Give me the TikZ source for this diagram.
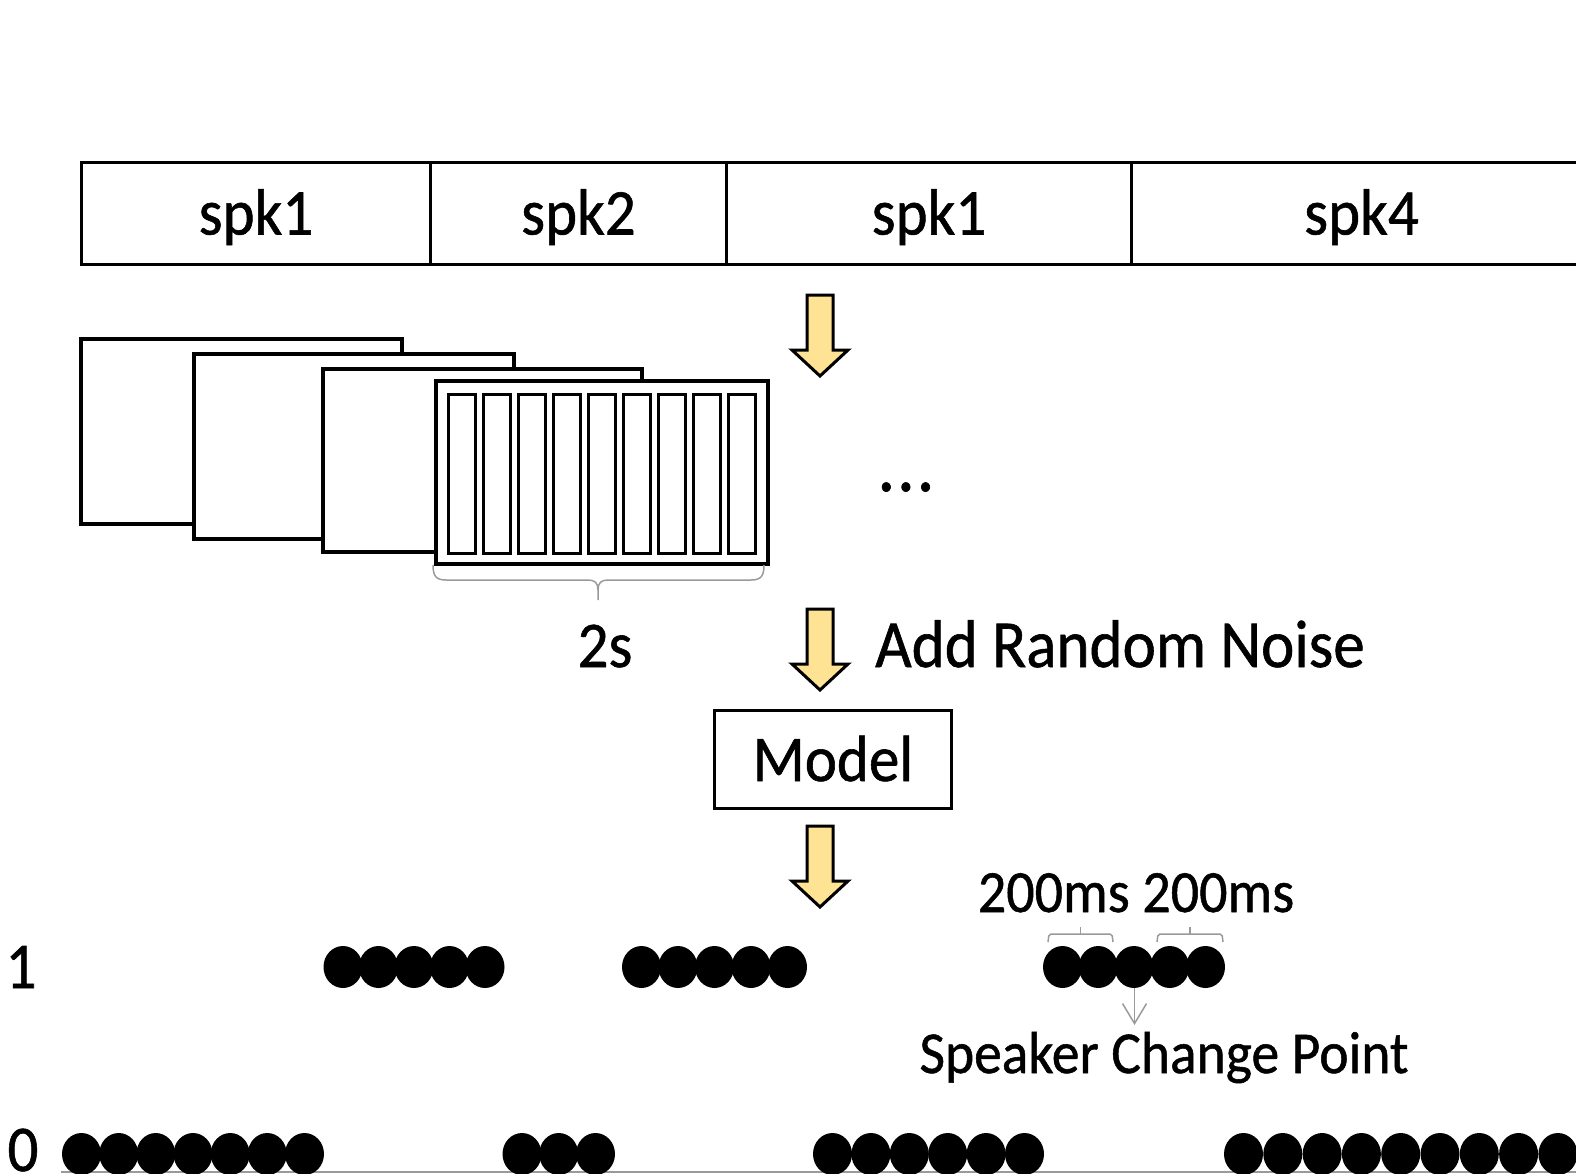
\documentclass[tikz,border=0pt]{standalone}
\usepackage{fontspec}
\usepackage{graphicx}
\setmainfont{Carlito}[FakeBold=0.9]
\usetikzlibrary{arrows.meta}

\definecolor{arrowfill}{HTML}{FFE394}
\definecolor{guide}{HTML}{9A9A9A}

% text set a little taller than wide, as in the slide
\newcommand{\textat}[2]{\scalebox{1}[1.07]{\fontsize{#1pt}{#1pt}\selectfont #2}}
\newcommand{\bigtext}[1]{\textat{61}{#1}}
\newcommand{\smalltext}[1]{\textat{55}{#1}}

\tikzset{
  outline/.style={draw=black, line width=3pt},
  seg/.style={outline, rectangle, inner sep=0pt, minimum height=102pt,
              anchor=north west, text height=42pt, text depth=0pt},
  framebox/.style={draw=black, line width=3.5pt, fill=white, rectangle,
                   inner sep=0pt, anchor=north west},
  bar/.style={draw=black, line width=3pt, rectangle, inner sep=0pt,
              minimum width=27pt, minimum height=159pt, anchor=north west},
  guideline/.style={draw=guide, line width=1.5pt},
  dot/.style={fill=black},
  blockarrow/.pic={
    \draw[outline, fill=arrowfill, line join=miter]
      (-13,0) -- (13,0) -- (13,55) -- (28,55) -- (0,81) -- (-28,55) -- (-13,55) -- cycle;
  }
}

\begin{document}
\begin{tikzpicture}[x=1pt, y=-1pt]
\path[use as bounding box, clip] (0,0) rectangle (1576,1173);

% utterance segments
\node[seg, minimum width=349pt] (seg1) at (80,161)   {\bigtext{spk1}};
\node[seg, minimum width=296pt] (seg2) at (429,161)  {\bigtext{spk2}};
\node[seg, minimum width=405pt] (seg3) at (725,161)  {\bigtext{spk1}};
\node[seg, minimum width=460pt] (seg4) at (1130,161) {\bigtext{spk4}};

\pic (down1) at (820,295) {blockarrow};

% stack of 2 s windows
\node[framebox, minimum width=321pt, minimum height=185pt] (win1) at (79,337) {};
\node[framebox, minimum width=320pt, minimum height=185pt] (win2) at (192,352) {};
\node[framebox, minimum width=319pt, minimum height=183pt] (win3) at (321,367) {};
\node[framebox, minimum width=332pt, minimum height=183pt] (win4) at (434,379) {};
\foreach \i in {0,...,8} {
  \node[bar] (frame\i) at ({447.4+35*\i},393) {};
}

% brace under the front window
\draw[guideline]
  (433,565) .. controls (433,576) and (436,580) .. (446,580) -- (588,580)
  .. controls (595,580) and (598,583) .. (598,590) -- (598,600);
\draw[guideline]
  (764,565) .. controls (764,576) and (761,580) .. (751,580) -- (608,580)
  .. controls (601,580) and (598,583) .. (598,590);

\node[anchor=base] (dur) at (605,667) {\bigtext{2s}};
\node[anchor=base] (more) at (906,491) {\textat{70}{.\kern2pt.\kern2pt.}};

\pic (down2) at (820,609) {blockarrow};
\node[anchor=base west, inner sep=0pt] (noise) at (875,667) {\textat{63}{Add Random Noise}};

\node[outline, rectangle, inner sep=0pt, minimum width=237pt, minimum height=98pt,
      text height=44pt, text depth=0pt] (model) at (833,759) {\bigtext{Model}};

\pic (down3) at (820,826) {blockarrow};

% labels of the two output levels
\node[anchor=base, inner sep=0pt] (one)  at (21,988)  {\bigtext{1}};
\node[anchor=base, inner sep=0pt] (zero) at (23,1171) {\bigtext{0}};

% 200 ms brackets and change point
\node[anchor=base, inner sep=0pt] (ms) at (1136,912) {\textat{56}{200ms 200ms}};
\draw[guideline, rounded corners=2pt] (1048,942) -- (1049,934) -- (1112,934) -- (1113,942);
\draw[guideline] (1080.5,934) -- (1080.5,927);
\draw[guideline, rounded corners=2pt] (1157,942) -- (1158,934) -- (1222,934) -- (1223,942);
\draw[guideline] (1190,934) -- (1190,927);

\coordinate (cp) at (1134.5,967);
\coordinate (cpend) at (1134.5,1025);
\draw[draw=guide, line width=1.5pt, -{Straight Barb[length=20pt, width=24pt, line width=1.5pt]}]
  (cp) -- (cpend);
\node[anchor=base, inner sep=0pt] (cplabel) at (1164,1073) {\textat{55.5}{Speaker Change Point}};

% frame-level outputs: level 1
\foreach \x in {343,378.5,414,449.5,485,
                641.5,678,714.5,751,787.5,
                1062.5,1098.25,1134,1169.75,1205.5} {
  \fill[dot] (\x,967) ellipse [x radius=19.5, y radius=21];
}

% frame-level outputs: level 0
\draw[guideline] (61,1172) -- (1576,1172);
\foreach \x in {81.5,118.7,155.8,193,230.2,267.3,304.5,
                522,558.75,595.5,
                832.5,870.9,909.3,947.7,986.1,1024.5,
                1243.5,1282.8,1322.1,1361.4,1400.7,1440,1479.3,1518.6,1557.9} {
  \fill[dot] (\x,1154) ellipse [x radius=19.5, y radius=21];
}
\end{tikzpicture}
\end{document}
